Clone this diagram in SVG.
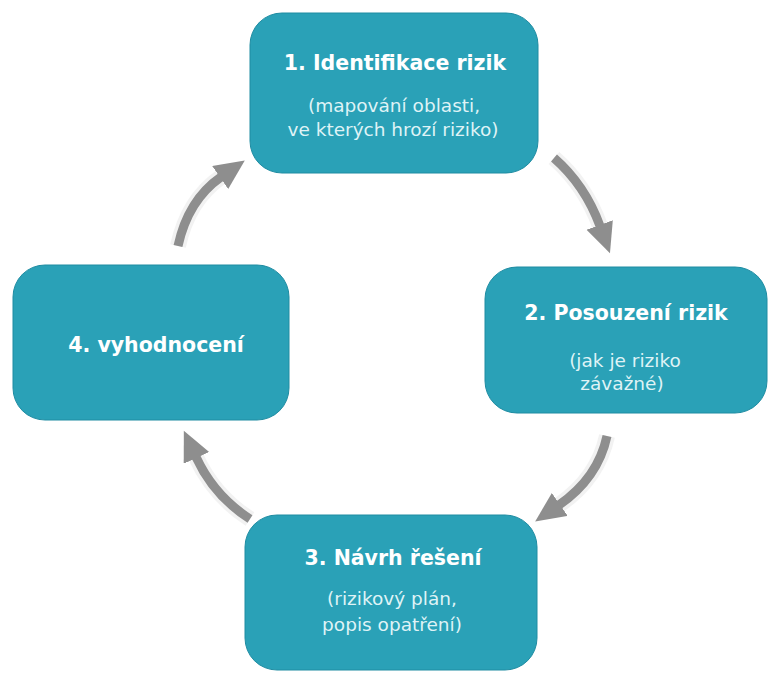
<svg xmlns="http://www.w3.org/2000/svg" width="769" height="683" viewBox="0 0 769 683">
  <style>
    .box { fill: #2aa1b7; stroke: #1f8ca2; stroke-width: 1; }
    .title { font-family: "DejaVu Sans", "Liberation Sans", sans-serif; font-weight: bold; font-size: 20.5px; fill: #ffffff; text-anchor: middle; }
    .sub { font-family: "DejaVu Sans", "Liberation Sans", sans-serif; font-size: 18.5px; fill: #dff3f6; text-anchor: middle; }
    .halo { fill: none; stroke: #f2f2f2; stroke-width: 16; stroke-linecap: butt; }
    .shaft { fill: none; stroke: #8e8e8e; stroke-width: 9; stroke-linecap: butt; }
  </style>
  <defs>
    <marker id="head" markerUnits="userSpaceOnUse" markerWidth="32" markerHeight="30" refX="1" refY="14" orient="auto">
      <path d="M0,0 L30,14 L0,28 z" fill="#8e8e8e"/>
    </marker>
  </defs>
  <rect width="769" height="683" fill="#ffffff"/>

  <!-- curved grey arrows running clockwise between the steps -->
  <g id="connectors">
    <path class="halo" d="M554,158 Q585,185 600,226"/>
    <path class="shaft" d="M554,158 Q585,185 600,226" marker-end="url(#head)"/>
    <path class="halo" d="M607,436 Q598,478 559,505"/>
    <path class="shaft" d="M607,436 Q598,478 559,505" marker-end="url(#head)"/>
    <path class="halo" d="M250,519 Q214,496 196,457"/>
    <path class="shaft" d="M250,519 Q214,496 196,457" marker-end="url(#head)"/>
    <path class="halo" d="M178,246 Q188,200 221,177"/>
    <path class="shaft" d="M178,246 Q188,200 221,177" marker-end="url(#head)"/>
  </g>

  <g id="node1">
    <rect class="box" x="250" y="13" width="288" height="160" rx="32"/>
    <text class="title" x="395" y="70">1. Identifikace rizik</text>
    <text class="sub" x="394" y="112">(mapování oblasti,</text>
    <text class="sub" x="393" y="136">ve kterých hrozí riziko)</text>
  </g>

  <g id="node2">
    <rect class="box" x="485" y="267" width="282" height="146" rx="32"/>
    <text class="title" x="626" y="320">2. Posouzení rizik</text>
    <text class="sub" x="625" y="367">(jak je riziko</text>
    <text class="sub" x="622" y="390">závažné)</text>
  </g>

  <g id="node3">
    <rect class="box" x="245" y="515" width="292" height="155" rx="32"/>
    <text class="title" x="393" y="565">3. Návrh řešení</text>
    <text class="sub" x="392" y="605">(rizikový plán,</text>
    <text class="sub" x="392" y="631">popis opatření)</text>
  </g>

  <g id="node4">
    <rect class="box" x="13" y="265" width="276" height="155" rx="32"/>
    <text class="title" x="156" y="352">4. vyhodnocení</text>
  </g>
</svg>
